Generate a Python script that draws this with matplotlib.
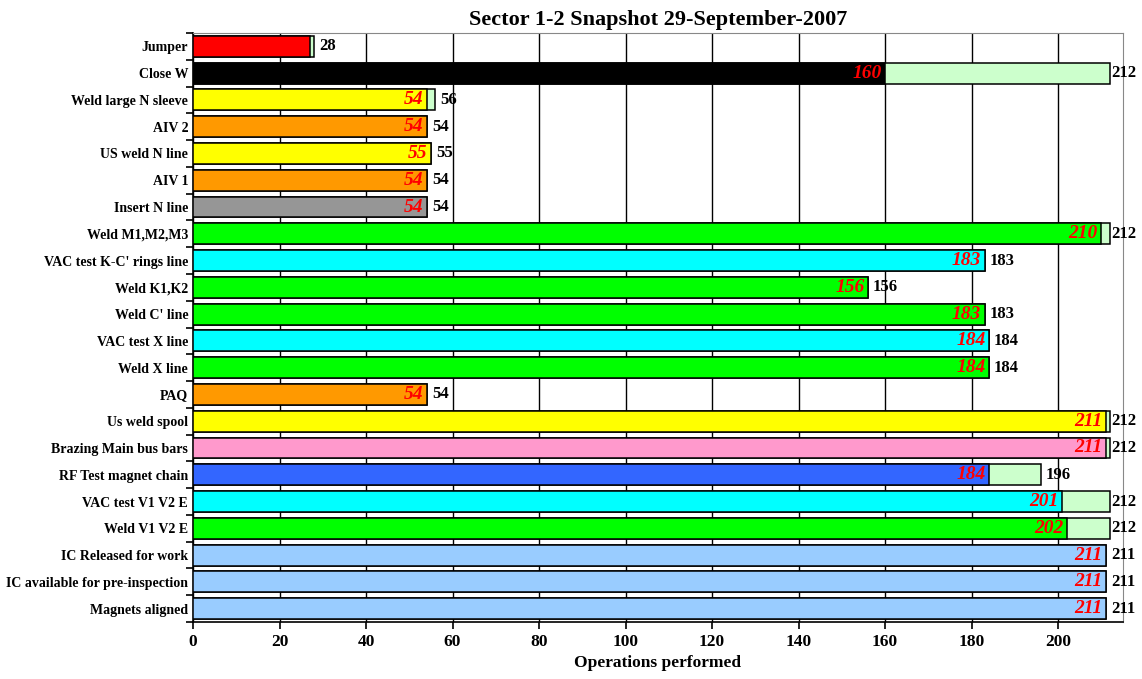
import matplotlib.pyplot as plt
import numpy as np

# Data, top to bottom as shown in the chart
tasks = ["Jumper", "Close W", "Weld large N sleeve", "AIV 2", "US weld N line", "AIV 1",
         "Insert N line", "Weld M1,M2,M3", "VAC test K-C' rings line", "Weld K1,K2",
         "Weld C' line", "VAC test X line", "Weld X line", "PAQ", "Us weld spool",
         "Brazing Main bus bars", "RF Test magnet chain", "VAC test V1 V2 E", "Weld V1 V2 E",
         "IC Released for work", "IC available for pre-inspection", "Magnets aligned"]
done = [27, 160, 54, 54, 55, 54, 54, 210, 183, 156, 183, 184, 184, 54, 211, 211, 184, 201, 202, 211, 211, 211]
total = [28, 212, 56, 54, 55, 54, 54, 212, 183, 156, 183, 184, 184, 54, 212, 212, 196, 212, 212, 211, 211, 211]
colors = ["#ff0000", "#000000", "#ffff00", "#ff9900", "#ffff00", "#ff9900", "#969696", "#00ff00",
          "#00ffff", "#00ff00", "#00ff00", "#00ffff", "#00ff00", "#ff9900", "#ffff00", "#ff99cc",
          "#3366ff", "#00ffff", "#00ff00", "#99ccff", "#99ccff", "#99ccff"]
show_done = [False] + [True] * 21

plt.rcParams['font.family'] = ['Liberation Serif', 'DejaVu Serif']
plt.rcParams['font.weight'] = 'bold'

fig = plt.figure(figsize=(11.42, 6.79), dpi=100)
ax = fig.add_axes([193 / 1142, 1 - 622 / 679, (1123 - 193) / 1142, (622 - 33) / 679])

y = np.arange(len(tasks))
ax.barh(y, total, height=0.78, color="#ccffcc", edgecolor="black", linewidth=1.1, zorder=2)
ax.barh(y, done, height=0.78, color=colors, edgecolor="black", linewidth=1.1, zorder=3)

for i in range(len(tasks)):
    if show_done[i]:
        ax.text(done[i] - 0.8, y[i], str(done[i]), color="#ff0000", style="italic",
                fontsize=14, ha="right", va="center", zorder=4)
    # labels near the right edge are pulled in, as in the original
    off = 0.2 if total[i] >= 212 else 1.2
    ax.text(total[i] + off, y[i], str(total[i]), color="black", fontsize=12,
            fontweight="bold", ha="left", va="center", zorder=4, clip_on=False)

ax.set_ylim(len(tasks) - 0.5, -0.5)
ax.set_xlim(0, 215)
ax.set_xticks(np.arange(0, 201, 20))
ax.tick_params(axis="x", labelsize=12.5, direction="out", length=5, width=1.2)
ax.set_yticks(y)
ax.set_yticklabels(tasks, fontsize=10)
ax.tick_params(axis="y", length=0)
# small tick marks between categories
ax.set_yticks(np.arange(-0.5, len(tasks), 1), minor=True)
ax.tick_params(axis="y", which="minor", length=5, width=1.2, direction="out")

ax.grid(axis="x", color="black", linewidth=1.0, zorder=0)
ax.set_axisbelow(True)
for side in ["top", "right"]:
    ax.spines[side].set_color("#888888")
for side in ["left", "bottom"]:
    ax.spines[side].set_color("black")
    ax.spines[side].set_linewidth(1.2)

ax.set_xlabel("Operations performed", fontsize=12.5, fontweight="bold", labelpad=4)
ax.set_title("Sector 1-2 Snapshot 29-September-2007", fontsize=16, fontweight="bold", pad=6)

fig.savefig("out.png", dpi=100)
